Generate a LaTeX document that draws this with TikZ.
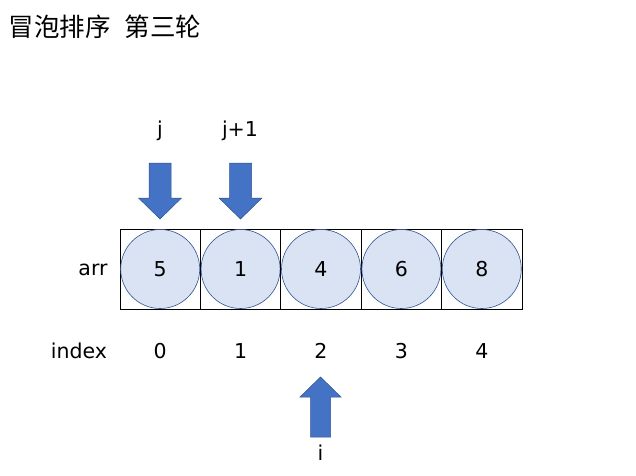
\documentclass[tikz,border=0pt]{standalone}
\usepackage{fontspec}
\setmainfont{DejaVu Sans}
\newfontfamily\cjkfont{Noto Sans CJK SC}
\begin{document}
\begin{tikzpicture}[x=1pt,y=-1pt,
  cell/.style={draw=black,line width=0.8pt,minimum width=80.4pt,minimum height=80pt,inner sep=0pt,outer sep=0pt},
  ball/.style={circle,draw=circ,fill=circfill,line width=0.6pt,minimum size=79pt,inner sep=0pt,font=\fontsize{20.5}{24}\selectfont},
  lbl/.style={font=\fontsize{20.5}{24}\selectfont,inner sep=0pt},
  bigarrow/.style={fill=arrfill,draw=circ,line width=0.5pt}]
\definecolor{circ}{RGB}{47,82,143}
\definecolor{circfill}{RGB}{218,227,243}
\definecolor{arrfill}{RGB}{68,114,196}
\useasboundingbox (0,0) rectangle (636,475);
\node[anchor=west,inner sep=0pt,font=\cjkfont\fontsize{25.5}{28}\selectfont] (title) at (8.5,27) {冒泡排序\hspace{14pt}第三轮};
\foreach \v [count=\k from 0] in {5,1,4,6,8}{
  \node[cell] (c\k) at ({160.2+80.4*\k},269) {};
  \node[ball] (b\k) at (c\k.center) {\v};
  \node[lbl] (n\k) at ({160.2+80.4*\k},351) {\k};
}
\node[lbl] (arr) at (93,270) {arr};
\node[lbl] (index) at (79,351) {index};
\node[lbl] (lj) at (160,131) {j};
\node[lbl] (lj1) at (240,131) {j+1};
\node[lbl] (li) at (320.5,453) {i};
\foreach \cx in {160,240.5}{
  \draw[bigarrow] (\cx-11,163) -- (\cx+11,163) -- (\cx+11,198) -- (\cx+21.5,198) -- (\cx,219) -- (\cx-21.5,198) -- (\cx-11,198) -- cycle;
}
\draw[bigarrow] (310.5,437) -- (330.5,437) -- (330.5,397) -- (341,397) -- (320.5,377) -- (300,397) -- (310.5,397) -- cycle;
\end{tikzpicture}
\end{document}
